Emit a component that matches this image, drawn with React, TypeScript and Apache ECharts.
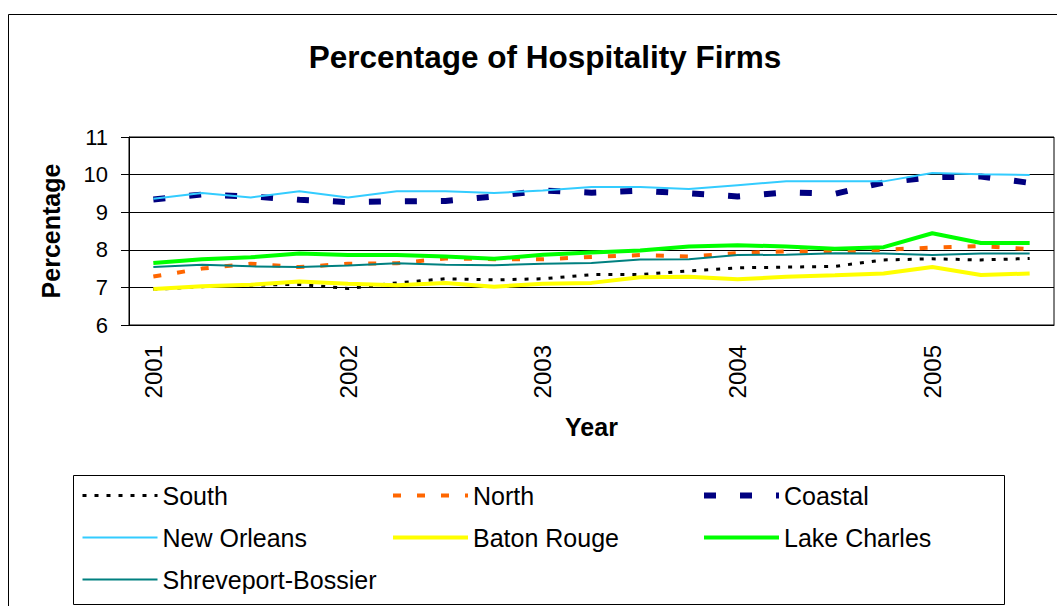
import React, { useEffect, useRef } from "react";
import * as echarts from "echarts";

const quarters = [
  "2001 Q1", "2001 Q2", "2001 Q3", "2001 Q4",
  "2002 Q1", "2002 Q2", "2002 Q3", "2002 Q4",
  "2003 Q1", "2003 Q2", "2003 Q3", "2003 Q4",
  "2004 Q1", "2004 Q2", "2004 Q3", "2004 Q4",
  "2005 Q1", "2005 Q2", "2005 Q3",
];

const south = [6.95, 7.02, 7.06, 7.08, 6.97, 7.12, 7.23, 7.2, 7.23, 7.34, 7.34, 7.44, 7.52, 7.54, 7.56, 7.73, 7.76, 7.73, 7.77];
const north = [7.29, 7.5, 7.63, 7.54, 7.63, 7.64, 7.77, 7.75, 7.75, 7.81, 7.86, 7.82, 7.91, 7.96, 7.95, 8.0, 8.06, 8.1, 8.02];
const coastal = [9.34, 9.47, 9.42, 9.33, 9.27, 9.29, 9.3, 9.42, 9.58, 9.52, 9.57, 9.5, 9.42, 9.53, 9.49, 9.79, 9.93, 9.95, 9.78];
const newOrleans = [9.36, 9.51, 9.39, 9.56, 9.39, 9.56, 9.56, 9.51, 9.58, 9.67, 9.67, 9.62, 9.72, 9.82, 9.82, 9.82, 10.04, 10.01, 9.99];
const batonRouge = [6.96, 7.03, 7.07, 7.16, 7.1, 7.06, 7.12, 7.02, 7.1, 7.12, 7.27, 7.28, 7.22, 7.28, 7.32, 7.37, 7.54, 7.33, 7.37];
const lakeCharles = [7.65, 7.75, 7.8, 7.9, 7.86, 7.86, 7.82, 7.76, 7.87, 7.93, 7.98, 8.09, 8.12, 8.09, 8.03, 8.07, 8.44, 8.18, 8.18];
const shreveport = [7.54, 7.6, 7.56, 7.54, 7.58, 7.64, 7.6, 7.59, 7.63, 7.65, 7.74, 7.75, 7.86, 7.87, 7.91, 7.9, 7.86, 7.9, 7.9];

const FONT = "'Liberation Sans', Arial, sans-serif";

export default function App() {
  const ref = useRef<HTMLDivElement>(null);
  useEffect(() => {
    if (!ref.current) return;
    const chart = echarts.init(ref.current, null, { renderer: "svg" });
    const mk = (name: string, data: number[], color: string, width: number, type: any) => ({
      name,
      type: "line",
      data,
      symbol: "none",
      lineStyle: { color, width, type, cap: "butt" },
      itemStyle: { color },
    });
    const legendBase = {
      orient: "vertical",
      top: 483,
      itemWidth: 75,
      itemHeight: 24,
      itemGap: 17,
      itemStyle: { opacity: 0 },
      lineStyle: { width: "inherit", type: "inherit" },
      textStyle: { fontFamily: FONT, fontSize: 25, color: "#000", lineHeight: 24 },
      padding: 0,
    };
    chart.setOption({
      animation: false,
      backgroundColor: "#fff",
      textStyle: { fontFamily: FONT },
      title: {
        text: "Percentage of Hospitality Firms",
        left: 540,
        textAlign: "center",
        top: 36,
        textStyle: { fontFamily: FONT, fontSize: 31.5, fontWeight: "bold", color: "#000" },
      },
      grid: {
        left: 129,
        top: 137,
        right: 3,
        bottom: 281,
        show: true,
        borderColor: "#000",
        borderWidth: 1,
        backgroundColor: "transparent",
      },
      legend: [
        { ...legendBase, left: 81, data: ["South", "New Orleans", "Shreveport-Bossier"] },
        { ...legendBase, left: 391, data: ["North", "Baton Rouge"] },
        { ...legendBase, left: 701, data: ["Coastal", "Lake Charles"] },
      ],
      xAxis: {
        type: "category",
        data: quarters,
        boundaryGap: true,
        name: "Year",
        nameLocation: "middle",
        nameGap: 89,
        nameTextStyle: { fontFamily: FONT, fontSize: 25, fontWeight: "bold", color: "#000", verticalAlign: "top" },
        axisLine: { lineStyle: { color: "#000", width: 1 } },
        axisTick: { interval: 0, length: 8, lineStyle: { color: "#000" } },
        axisLabel: {
          interval: 3,
          rotate: 90,
          fontSize: 24,
          margin: 20,
          color: "#000",
          fontFamily: FONT,
          formatter: (v: string) => v.slice(0, 4),
        },
        splitLine: { show: false },
      },
      yAxis: {
        type: "value",
        min: 6,
        max: 11,
        interval: 1,
        name: "Percentage",
        nameLocation: "middle",
        nameGap: 66,
        nameTextStyle: { fontFamily: FONT, fontSize: 25, fontWeight: "bold", color: "#000" },
        axisLine: { show: true, lineStyle: { color: "#000", width: 1 } },
        axisTick: { show: true, length: 8, lineStyle: { color: "#000" } },
        axisLabel: { fontSize: 22, margin: 21, color: "#000", fontFamily: FONT },
        splitLine: { show: true, lineStyle: { color: "#000", width: 1 } },
      },
      graphic: [
        {
          type: "rect",
          shape: { x: 8.5, y: 14.5, width: 1100, height: 700 },
          style: { fill: "none", stroke: "#000", lineWidth: 1 },
          silent: true,
        },
        {
          type: "rect",
          shape: { x: 73.5, y: 475.5, width: 931, height: 129 },
          style: { fill: "none", stroke: "#000", lineWidth: 1 },
          silent: true,
        },
      ],
      series: [
        mk("South", south, "#000000", 3, [4, 8]),
        mk("North", north, "#FF6600", 4, [8, 16]),
        mk("Coastal", coastal, "#000080", 6, [12, 24]),
        mk("New Orleans", newOrleans, "#33CCFF", 2, "solid"),
        mk("Baton Rouge", batonRouge, "#FFFF00", 4, "solid"),
        mk("Lake Charles", lakeCharles, "#00FF00", 4, "solid"),
        mk("Shreveport-Bossier", shreveport, "#008080", 2, "solid"),
      ],
    });
    return () => chart.dispose();
  }, []);
  return (
    <div
      ref={ref}
      style={{ position: "absolute", left: 0, top: 0, width: 1057, height: 606 }}
    />
  );
}
